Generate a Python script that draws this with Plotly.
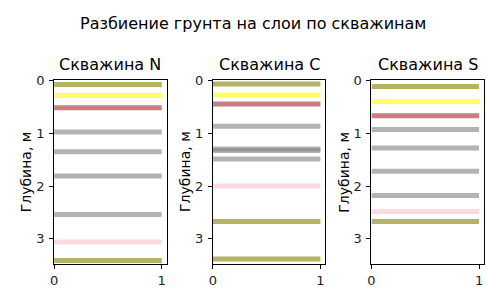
import plotly.graph_objects as go

# Data: depths (m) of layer boundaries and soil colours for each borehole
wells = ["Скважина N", "Скважина C", "Скважина S"]
depths_N = [0.08, 0.29, 0.52, 0.98, 1.35, 1.81, 2.54, 3.06, 3.41]
colors_N = ["olive", "yellow", "brown", "gray", "gray", "gray", "gray", "pink", "olive"]
depths_C = [0.07, 0.28, 0.45, 0.87, 1.30, 1.33, 1.49, 2.00, 2.67, 3.38]
colors_C = ["olive", "yellow", "brown", "gray", "gray", "gray", "gray", "pink", "olive", "olive"]
depths_S = [0.12, 0.40, 0.67, 0.93, 1.28, 1.72, 2.18, 2.48, 2.67]
colors_S = ["olive", "yellow", "brown", "gray", "gray", "gray", "gray", "pink", "olive"]
x_span = [0, 1]

rgba = {
    "olive": "rgba(128,128,0,0.6)",
    "yellow": "rgba(255,255,0,0.6)",
    "brown": "rgba(165,42,42,0.6)",
    "gray": "rgba(128,128,128,0.6)",
    "pink": "rgba(255,192,203,0.6)",
}

W, H = 487, 296
font = "DejaVu Sans"
xdoms = [(50.5 / W, 164 / W), (210.5 / W, 324 / W), (370.5 / W, 484 / W)]
ydom = (1 - 263 / H, 1 - 75 / H)

fig = go.Figure()
data = [(depths_N, colors_N), (depths_C, colors_C), (depths_S, colors_S)]
for i, (deps, cols) in enumerate(data):
    ax = "" if i == 0 else str(i + 1)
    for d, c in zip(deps, cols):
        fig.add_trace(go.Scatter(
            x=x_span, y=[d, d], mode="lines",
            line=dict(color=rgba[c], width=5),
            xaxis="x" + ax, yaxis="y" + ax,
            showlegend=False, hoverinfo="skip"))
    common = dict(showline=True, linecolor="black", linewidth=1, mirror=True,
                  ticks="outside", ticklen=4, tickcolor="black", showgrid=False,
                  zeroline=False, tickfont=dict(family=font, size=13, color="#222"))
    fig.layout["xaxis" + ax] = dict(domain=list(xdoms[i]), range=[0, 1.046],
                                    tickvals=[0, 1], anchor="y" + ax,
                                    ticklabelstandoff=1, **common)
    fig.layout["yaxis" + ax] = dict(domain=list(ydom), range=[3.47, 0],
                                    tickvals=[0, 1, 2, 3], anchor="x" + ax,
                                    ticklabelstandoff=2, **common)
    cx = (xdoms[i][0] + xdoms[i][1]) / 2
    fig.add_annotation(text=wells[i], x=cx, y=1 - 59 / H, xref="paper", yref="paper",
                       showarrow=False, xanchor="center", yanchor="middle",
                       font=dict(family=font, size=16, color="black"))
    fig.add_annotation(text="Глубина, м", x=xdoms[i][0] - 28 / W, y=(ydom[0] + ydom[1]) / 2,
                       xref="paper", yref="paper", showarrow=False, textangle=-90,
                       xanchor="center", yanchor="middle",
                       font=dict(family=font, size=14, color="black"))

fig.add_annotation(text="Разбиение грунта на слои по скважинам", x=251 / W, y=1 - 17 / H,
                   xref="paper", yref="paper", showarrow=False, xanchor="center",
                   yanchor="middle", font=dict(family=font, size=16, color="black"))

fig.update_layout(width=W, height=H, margin=dict(l=0, r=0, t=0, b=0),
                  plot_bgcolor="white", paper_bgcolor="white")
fig.write_html("out.html")
